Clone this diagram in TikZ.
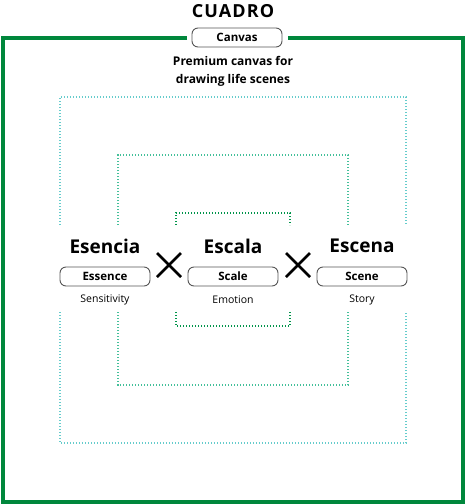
\documentclass[tikz,border=0pt]{standalone}
\usepackage{fontspec}
\setmainfont{Open Sans}
\newfontfamily\spacedfont[LetterSpace=6]{Open Sans}
\definecolor{frameGreen}{HTML}{00873C}
\definecolor{outerDot}{HTML}{66CCCC}
\definecolor{midDot}{HTML}{44C09A}
\definecolor{innerDot}{HTML}{00944A}
\definecolor{pillGray}{HTML}{555555}

\begin{document}
\begin{tikzpicture}[
    x=1pt, y=-1pt,
    every node/.style={font=\small},
    pill/.style={draw=pillGray, line width=0.9pt, rounded corners=6pt, minimum width=90pt, minimum height=19pt, inner sep=0pt, font=\fontsize{11.5}{14}\selectfont\bfseries},
    heading/.style={font=\fontsize{19}{22}\selectfont\bfseries},
    caption/.style={font=\fontsize{10.5}{12}\selectfont},
    dotline/.style={dash pattern=on 1.3pt off 1.7pt, line width=1.3pt},
    cross/.style={line width=2.8pt}
]
\useasboundingbox (0,0) rectangle (466,504);

% frame
\draw[frameGreen, line width=4.5pt] (187,38) -- (3,38) -- (3,502) -- (463,502) -- (463,38) -- (288,38);
\node (title) at (233,11) {\spacedfont\fontsize{18}{20}\selectfont\bfseries CUADRO};
\node[pill] (canvas) at (237,37.5) {Canvas};
\node[align=center, font=\fontsize{12}{18}\selectfont\bfseries] (tagline) at (233,71) {Premium canvas for\\drawing life scenes};

% nested brackets
\draw[outerDot, dotline] (60,225) -- (60,97) -- (406,97) -- (406,225);
\draw[outerDot, dotline] (60,312) -- (60,443) -- (406,443) -- (406,312);
\draw[midDot, dotline] (118,225) -- (118,155) -- (348,155) -- (348,225);
\draw[midDot, dotline] (118,312) -- (118,385) -- (348,385) -- (348,312);
\draw[innerDot, dotline] (176,225) -- (176,213) -- (290,213) -- (290,225);
\draw[innerDot, dotline] (176,312) -- (176,326) -- (290,326) -- (290,312);

% three columns
\node[heading] (esencia) at (105,246) {Esencia};
\node[pill] (essence) at (105,276.5) {Essence};
\node[caption] (sensitivity) at (105,300) {Sensitivity};

\node[heading] (escala) at (233,246) {Escala};
\node[pill] (scale) at (233,276.5) {Scale};
\node[caption] (emotion) at (233,300) {Emotion};

\node[heading] (escena) at (362,246) {Escena};
\node[pill] (scene) at (362,276.5) {Scene};
\node[caption] (story) at (362,300) {Story};

% multiplication signs
\foreach \cx in {169,298} {
  \draw[cross] (\cx-12,253) -- (\cx+12,277);
  \draw[cross] (\cx-12,277) -- (\cx+12,253);
}
\end{tikzpicture}
\end{document}
